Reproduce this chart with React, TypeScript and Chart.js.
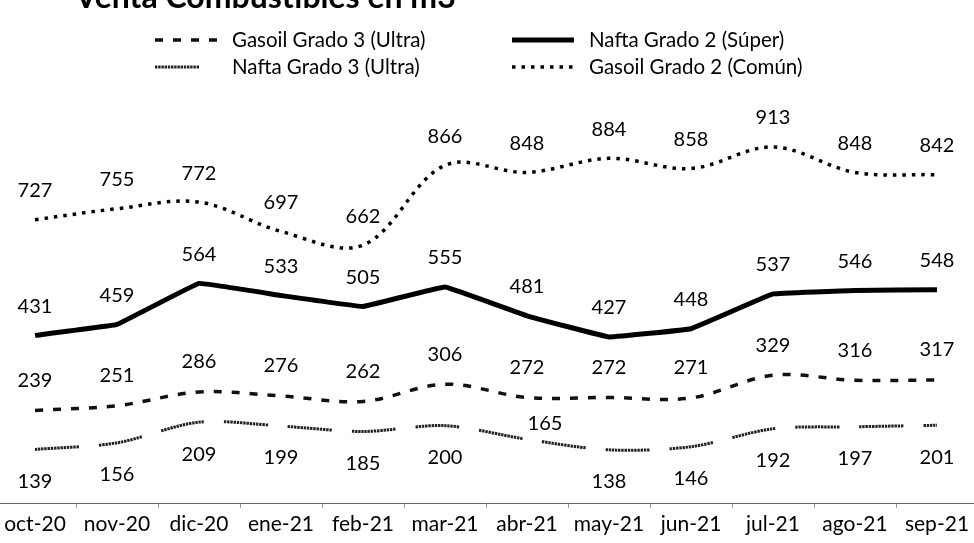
import React, { useEffect, useRef } from "react";
import { Chart, registerables } from "chart.js";

Chart.register(...registerables);

const months = ["oct-20", "nov-20", "dic-20", "ene-21", "feb-21", "mar-21", "abr-21", "may-21", "jun-21", "jul-21", "ago-21", "sep-21"];
const gasoilG3 = [239, 251, 286, 276, 262, 306, 272, 272, 271, 329, 316, 317];
const naftaG2 = [431, 459, 564, 533, 505, 555, 481, 427, 448, 537, 546, 548];
const naftaG3 = [139, 156, 209, 199, 185, 200, 165, 138, 146, 192, 197, 201];
const gasoilG2 = [727, 755, 772, 697, 662, 866, 848, 884, 858, 913, 848, 842];
const seriesNames = ["Gasoil Grado 3 (Ultra)", "Nafta Grado 2 (Súper)", "Nafta Grado 3 (Ultra)", "Gasoil Grado 2 (Común)"];
const titleText = "Venta Combustibles en m3";
const yMin = 0;
const yMax = 1000;

const FONT = "Lato, 'Noto Sans', sans-serif";
const CANVAS_W = 984;
const CANVAS_H = 565;
const OFF_X = 6;
const OFF_Y = 22;

// hatched segment dash for Nafta Grado 3
const hatchDash: number[] = [];
for (let i = 0; i < 13; i++) hatchDash.push(2.4, 0.8);
hatchDash.push(2.4, 20);

const titlePlugin = {
  id: "cutTitle",
  afterDraw(chart: any) {
    const ctx = chart.ctx;
    ctx.save();
    ctx.font = `bold 32px ${FONT}`;
    ctx.fillStyle = "#000";
    ctx.textAlign = "left";
    ctx.textBaseline = "alphabetic";
    ctx.fillText(titleText, 75 + OFF_X, 8 + OFF_Y);
    ctx.restore();
  },
};

const legendPlugin = {
  id: "gridLegend",
  afterDraw(chart: any) {
    const ctx = chart.ctx;
    const cols = [155 + OFF_X, 512 + OFF_X];
    const rows = [40 + OFF_Y, 67 + OFF_Y];
    ctx.save();
    chart.data.datasets.forEach((ds: any, k: number) => {
      const x = cols[k % 2];
      const y = rows[Math.floor(k / 2)];
      ctx.beginPath();
      ctx.setLineDash(ds.borderDash || []);
      ctx.lineWidth = ds.borderWidth;
      ctx.strokeStyle = ds.borderColor;
      ctx.moveTo(x, y);
      ctx.lineTo(x + 62, y);
      ctx.stroke();
      ctx.setLineDash([]);
      ctx.font = `20.5px ${FONT}`;
      ctx.fillStyle = "#000";
      ctx.textAlign = "left";
      ctx.textBaseline = "middle";
      ctx.fillText(ds.label, x + 77, y);
    });
    ctx.restore();
  },
};

const valueLabelPlugin = {
  id: "valueLabels",
  afterDatasetsDraw(chart: any) {
    const ctx = chart.ctx;
    ctx.save();
    ctx.font = `20px ${FONT}`;
    ctx.fillStyle = "#000";
    ctx.textAlign = "center";
    ctx.textBaseline = "middle";
    chart.data.datasets.forEach((ds: any, di: number) => {
      const meta = chart.getDatasetMeta(di);
      meta.data.forEach((pt: any, i: number) => {
        const over = ds.labelOverrides && ds.labelOverrides[i];
        const dy = over ? over.dy : ds.labelDy;
        const dx = over ? over.dx : 0;
        ctx.fillText(String(ds.data[i]), pt.x + dx, pt.y + dy);
      });
    });
    ctx.restore();
  },
};

export default function App() {
  const ref = useRef<HTMLCanvasElement>(null);
  useEffect(() => {
    if (!ref.current) return;
    const chart = new Chart(ref.current, {
      type: "line",
      data: {
        labels: months,
        datasets: [
          {
            label: seriesNames[0],
            data: gasoilG3,
            borderColor: "#111",
            borderWidth: 3.5,
            borderDash: [8, 10],
            tension: 0.35,
            pointRadius: 0,
            fill: false,
            labelDy: -30,
          } as any,
          {
            label: seriesNames[1],
            data: naftaG2,
            borderColor: "#000",
            borderWidth: 5,
            tension: 0.05,
            pointRadius: 0,
            fill: false,
            labelDy: -29,
          } as any,
          {
            label: seriesNames[2],
            data: naftaG3,
            borderColor: "#222",
            borderWidth: 3,
            borderDash: hatchDash,
            tension: 0.3,
            pointRadius: 0,
            fill: false,
            labelDy: 32,
            labelOverrides: { 6: { dy: -16, dx: 18 } },
          } as any,
          {
            label: seriesNames[3],
            data: gasoilG2,
            borderColor: "#000",
            borderWidth: 3.5,
            borderDash: [3.5, 6],
            tension: 0.35,
            pointRadius: 0,
            fill: false,
            labelDy: -29,
          } as any,
        ],
      },
      options: {
        animation: false,
        responsive: false,
        maintainAspectRatio: false,
        devicePixelRatio: 1,
        layout: { padding: { top: 135, bottom: 2, left: 0, right: 0 } },
        plugins: {
          legend: { display: false },
          title: { display: false },
          tooltip: { enabled: false },
        },
        scales: {
          x: {
            offset: true,
            grid: {
              offset: true,
              drawOnChartArea: false,
              drawTicks: true,
              tickLength: 4,
              color: "#999",
              lineWidth: 1,
            },
            border: { display: true, color: "#666", dash: [1.5, 2], width: 1 },
            ticks: {
              font: { family: FONT, size: 21 },
              color: "#000",
              padding: 4,
              maxRotation: 0,
              autoSkip: false,
            },
          },
          y: { display: false, min: yMin, max: yMax },
        },
      },
      plugins: [valueLabelPlugin, legendPlugin, titlePlugin],
    });
    return () => chart.destroy();
  }, []);

  return (
    <div style={{ position: "fixed", left: 0, top: 0, width: 974, height: 543, overflow: "hidden", background: "#fff" }}>
      <canvas
        ref={ref}
        width={CANVAS_W}
        height={CANVAS_H}
        style={{ position: "absolute", left: -OFF_X, top: -OFF_Y, width: CANVAS_W, height: CANVAS_H }}
      />
    </div>
  );
}
